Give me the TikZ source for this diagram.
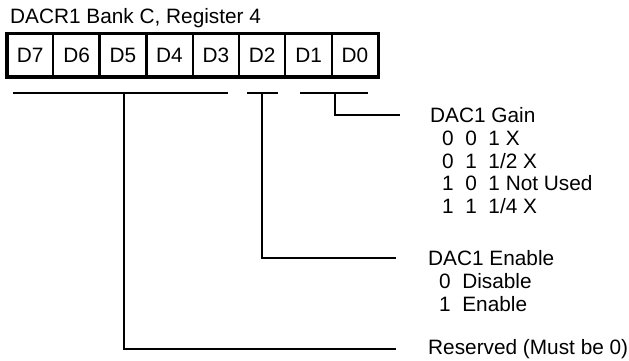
\documentclass[tikz,border=0pt]{standalone}
\usepackage{fontspec}
\setmainfont{Liberation Sans}
\usetikzlibrary{positioning}
\begin{document}
\begin{tikzpicture}[x=1pt, y=-1pt,
	bitcell/.style={draw, line width=2pt, minimum width=46.4pt, minimum height=43.7pt,
		inner sep=0pt, outer sep=0pt, text height=14.9pt, text depth=0pt,
		font=\fontsize{20.8}{22.8}\selectfont},
	txt/.style={inner sep=0pt, anchor=base west, font=\fontsize{20.8}{22.8}\selectfont},
	wire/.style={line width=1.4pt}]
	\useasboundingbox (0,0) rectangle (629,360);
	\node[txt] (title) at (10,23) {DACR1 Bank C, Register 4};
	% register cells
	\foreach \b [count=\i from 0] in {7,...,0}
		\node[bitcell] (d\b) at (30.2+46.4*\i,55.2) {D\b};
	\draw[line width=3.2pt] (d7.north west) rectangle (d0.south east);
	\draw[line width=3pt] (d6.north east) -- (d6.south east);
	\draw[line width=3pt] (d5.north east) -- (d5.south east);
	% field underlines
	\coordinate (rsvL) at (13,93);  \coordinate (rsvR) at (228,93);
	\coordinate (enaL) at (247,93); \coordinate (enaR) at (278,93);
	\coordinate (gnL) at (300,93);  \coordinate (gnR) at (368,93);
	\draw[wire] (rsvL) -- (rsvR);
	\draw[wire] (enaL) -- (enaR);
	\draw[wire] (gnL) -- (gnR);
	\coordinate (rsvTap) at (124,93);
	\coordinate (enaTap) at (262,93);
	\coordinate (gnTap) at (335,93);
	% field descriptions
	\node[txt] (gain) at (430,122.5) {DAC1 Gain};
	\foreach \t [count=\i] in {0~~0~~1 X, 0~~1~~1/2 X, 1~~0~~1 Not Used, 1~~1~~1/4 X}
		\node[txt] (gain\i) at (442,122.5+22.8*\i) {\t};
	\node[txt] (enable) at (428,265.5) {DAC1 Enable};
	\foreach \t [count=\i] in {0~~Disable, 1~~Enable}
		\node[txt] (enable\i) at (439,265.5+22.8*\i) {\t};
	\node[txt] (reserved) at (428,354.5) {Reserved (Must be 0)};
	% connectors
	\draw[wire] (gnTap) |- ([xshift=-30pt]gain.west);
	\draw[wire] (enaTap) |- ([xshift=-32pt]enable.west);
	\draw[wire] (rsvTap) |- ([xshift=-32pt]reserved.west);
\end{tikzpicture}
\end{document}
